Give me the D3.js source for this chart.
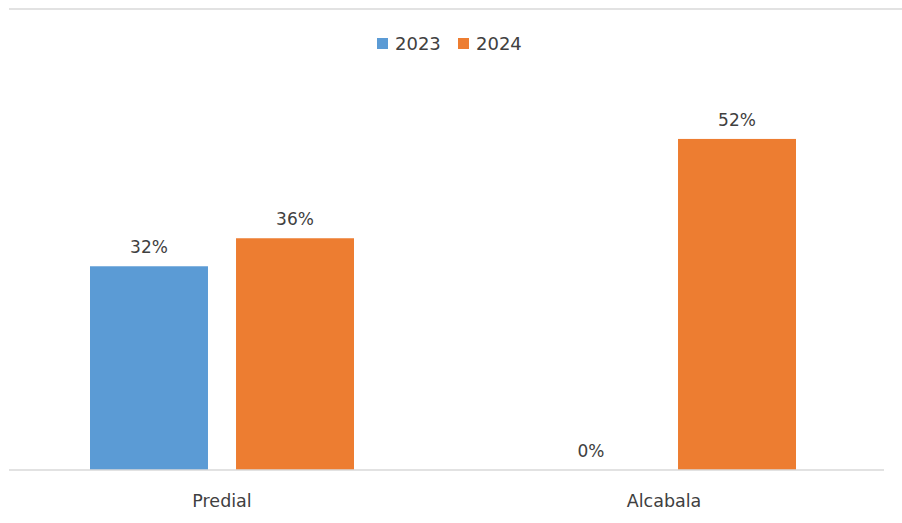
<!DOCTYPE html>
<html>
<head>
<meta charset="utf-8">
<script src="https://cdn.jsdelivr.net/npm/d3@7"></script>
<style>
  html, body { margin: 0; padding: 0; background: #fff; }
  svg text { font-family: "DejaVu Sans", sans-serif; fill: #404040; }
</style>
</head>
<body>
<div id="chart"></div>
<script>
// data
const categories = ["Predial", "Alcabala"];
const seriesNames = ["2023", "2024"];
const values2023 = [0.32, 0];
const values2024 = [0.364, 0.52];
const colors = ["#5B9BD5", "#ED7D31"];

const W = 902, H = 523;
const baseY = 470;

const svg = d3.select("#chart").append("svg")
  .attr("width", W)
  .attr("height", H);

const rows = categories.map((c, i) => ({
  cat: c,
  vals: [values2023[i], values2024[i]]
}));

const x0 = d3.scaleBand()
  .domain(categories)
  .range([1, 885]);

const groupW = 264;
const x1 = d3.scaleBand()
  .domain(seriesNames)
  .range([0, groupW])
  .paddingInner(0.192);

const y = d3.scaleLinear()
  .domain([0, 0.6])
  .range([baseY, 88]);

const fmt = d3.format(".0%");

// top border line
svg.append("line")
  .attr("x1", 9).attr("x2", W)
  .attr("y1", 9).attr("y2", 9)
  .style("stroke", "#d9d9d9")
  .style("stroke-width", "1.5px");

// bars
const groups = svg.selectAll("g.cat")
  .data(rows)
  .enter().append("g")
  .attr("class", "cat")
  .attr("transform", d => `translate(${x0(d.cat) + (x0.bandwidth() - groupW) / 2},0)`);

groups.selectAll("rect")
  .data(d => d.vals.map((v, i) => ({ key: seriesNames[i], v, i })))
  .enter().append("rect")
  .attr("x", d => x1(d.key))
  .attr("y", d => y(d.v))
  .attr("width", x1.bandwidth())
  .attr("height", d => baseY - y(d.v))
  .attr("fill", d => colors[d.i]);

groups.selectAll("text.lbl")
  .data(d => d.vals.map((v, i) => ({ key: seriesNames[i], v, i })))
  .enter().append("text")
  .attr("class", "lbl")
  .attr("x", d => x1(d.key) + x1.bandwidth() / 2)
  .attr("y", d => y(d.v) - 13)
  .attr("text-anchor", "middle")
  .style("font-size", "17px")
  .text(d => fmt(d.v));

// x axis
const xAxis = svg.append("g")
  .attr("transform", `translate(0,${baseY})`)
  .call(d3.axisBottom(x0).tickSize(0).tickPadding(25));
xAxis.select("path.domain").remove();
xAxis.selectAll("text")
  .style("font-size", "17.5px")
  .style("font-family", "DejaVu Sans, sans-serif")
  .attr("fill", "#404040");

svg.append("line")
  .attr("x1", 9).attr("x2", 884)
  .attr("y1", baseY).attr("y2", baseY)
  .style("stroke", "#d9d9d9")
  .style("stroke-width", "1.5px");

// legend
const legendX = [377, 458];
const legend = svg.selectAll("g.leg")
  .data(seriesNames)
  .enter().append("g")
  .attr("class", "leg")
  .attr("transform", (d, i) => `translate(${legendX[i]},38)`);

legend.append("rect")
  .attr("width", 11).attr("height", 11)
  .attr("fill", (d, i) => colors[i]);

legend.append("text")
  .attr("x", 18)
  .attr("y", 12)
  .style("font-size", "18px")
  .text(d => d);
</script>
</body>
</html>
